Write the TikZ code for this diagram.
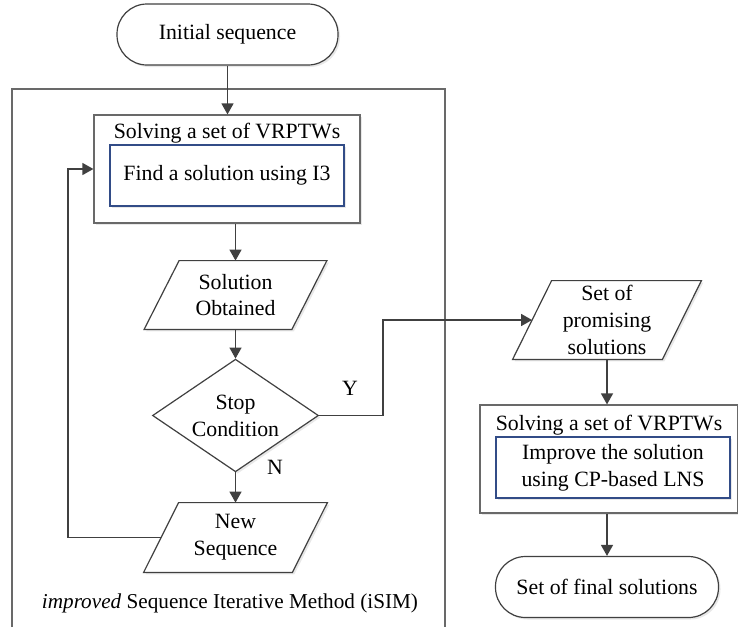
\documentclass[tikz,border=0pt]{standalone}
\usepackage{fontspec}
\setmainfont{Liberation Serif}
\usetikzlibrary{arrows.meta,shapes.geometric,shadows}
\definecolor{fcgray}{RGB}{64,64,64}
\definecolor{fcframe}{RGB}{105,105,105}
\definecolor{fcblue}{RGB}{50,76,135}
\pgfdeclarelayer{background}
\pgfsetlayers{background,main}
\tikzset{
  fcshadow/.style={drop shadow={shadow xshift=1pt,shadow yshift=-1pt,opacity=0.18}},
  flow/.style={fcgray,line width=0.7pt,-{Triangle[length=5.5pt,width=6pt]}},
  term/.style={draw=fcgray,line width=0.6pt,fill=white,rounded corners=15pt,minimum width=#1,minimum height=30.5pt,fcshadow},
  group/.style={draw=fcframe,line width=0.6pt,fill=white,minimum height=54pt,fcshadow},
  task/.style={draw=fcblue,line width=0.6pt,fill=white,minimum width=117pt,minimum height=30.5pt,align=center,fcshadow},
  data/.style={inner sep=0pt,align=center},
  decision/.style={diamond,draw=fcgray,line width=0.6pt,fill=white,inner sep=-2pt,minimum width=83pt,minimum height=46.5pt,align=center,fcshadow}
}
\newcommand{\dataframe}[2]{%
  \begin{pgfonlayer}{background}
  \draw[fcgray,line width=0.6pt,fill=white,fcshadow] ([xshift=#2]#1.north west) -- ([xshift=#2]#1.north east) -- ([xshift=-#2]#1.south east) -- ([xshift=-#2]#1.south west) -- cycle;
  \end{pgfonlayer}}
\begin{document}
\begin{tikzpicture}[x=0.5pt,y=-0.5pt,font=\fontsize{10.9}{13.4}\selectfont]
  \useasboundingbox (0,0) rectangle (738,627);
  \draw[fcframe,line width=0.6pt] (12,627) -- (12,89) -- (445,89) -- (445,627);
  \node[term=110.5pt] (init) at (227.5,34.5) {Initial sequence};
  \node[group,minimum width=133pt] (vrp1) at (227,169) {};
  \node (vrp1t) at (227,133) {Solving a set of VRPTWs};
  \node[task] (i3) at (227,175.5) {Find a solution using I3};
  \node[data,minimum width=73.5pt,minimum height=34pt] (sol) at (235.5,295) {Solution\\Obtained};
  \node[decision] (stop) at (235.5,415.5) {Stop\\Condition};
  \node[data,minimum width=74pt,minimum height=34.5pt] (newseq) at (235.5,537.5) {New\\Sequence};
  \node[font=\fontsize{10.6}{13}\selectfont] (isim) at (230,603) {\textit{improved} Sequence Iterative Method (iSIM)};
  \node[data,minimum width=74.5pt,minimum height=39pt] (prom) at (607,320) {Set of\\promising\\solutions};
  \node[group,minimum width=129pt] (vrp2) at (609,459) {};
  \node (vrp2t) at (609,425) {Solving a set of VRPTWs};
  \node[task] (lns) at (613,467.5) {Improve the solution\\using CP-based LNS};
  \node[term=111.5pt] (fin) at (607,587) {Set of final solutions};
  \node (ylab) at (350,388) {Y};
  \node (nlab) at (275,467) {N};
  \dataframe{sol}{8.75pt}
  \dataframe{newseq}{8.75pt}
  \dataframe{prom}{9.75pt}
  \coordinate (loopx) at (68,0);
  \coordinate (yx) at (383,0);
  \draw[flow] (init.south) -- (init.south |- vrp1.north);
  \draw[flow] (sol.north |- vrp1.south) -- (sol.north);
  \draw[flow] (sol) -- (stop);
  \draw[flow] (stop) -- (newseq);
  \draw[flow] (newseq.west) -| (loopx |- vrp1.west) -- (vrp1.west);
  \draw[flow] (stop.east) -| (yx |- prom.west) -- (prom.west);
  \draw[flow] (prom.south) -- (prom.south |- vrp2.north);
  \draw[flow] (fin.north |- vrp2.south) -- (fin.north);
\end{tikzpicture}
\end{document}
